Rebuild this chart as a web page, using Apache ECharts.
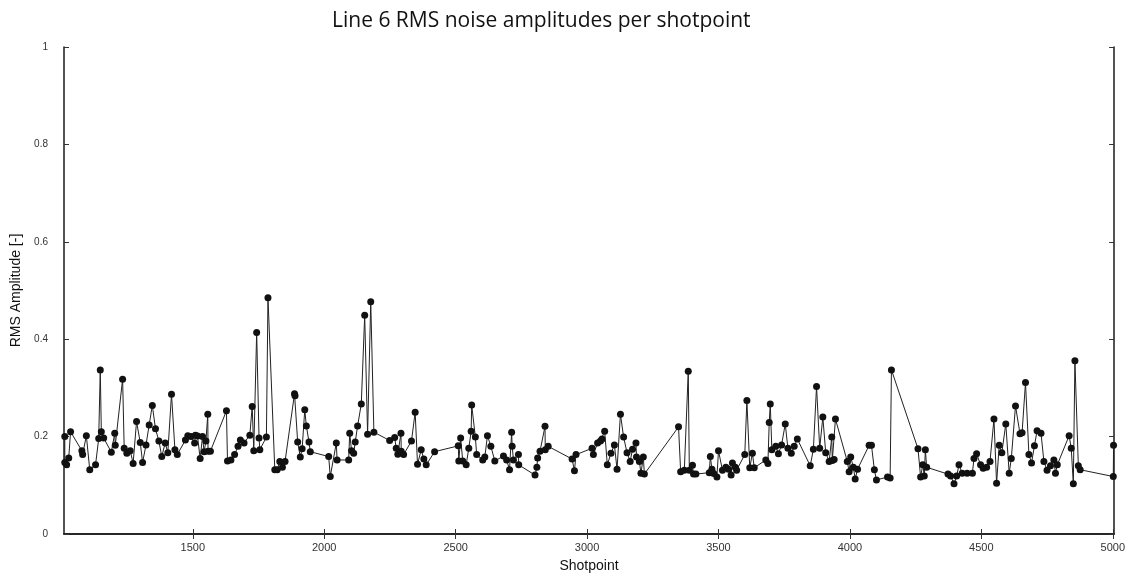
<!DOCTYPE html>
<html>
<head>
<meta charset="utf-8">
<script src="https://cdn.jsdelivr.net/npm/echarts@6/dist/echarts.min.js"></script>
<style>html,body{margin:0;padding:0;background:#fff;}#c{width:1128px;height:578px;}</style>
</head>
<body>
<div id="c"></div>
<script>
const titleText = 'Line 6 RMS noise amplitudes per shotpoint';
const xName = 'Shotpoint';
const yName = 'RMS Amplitude [-]';
const xTicks = [1500, 2000, 2500, 3000, 3500, 4000, 4500, 5000];
const shotpoints = [
1013,1013,1020,1028,1035,1078,1081,1095,1108,1130,1142,1148,1152,1161,1190,1203,1205,1233,1239,1249,
1262,1273,1286,1300,1309,1322,1334,1346,1358,1371,1382,1395,1405,1419,1432,1441,1472,1481,1493,1507,
1510,1518,1528,1537,1543,1550,1557,1558,1567,1628,1632,1645,1659,1672,1681,1695,1717,1726,1732,1743,
1752,1755,1780,1786,1812,1821,1831,1841,1851,1887,1889,1899,1909,1916,1926,1932,1942,1947,2017,2023,
2046,2049,2093,2097,2104,2112,2118,2127,2141,2154,2165,2177,2189,2249,2268,2274,2280,2292,2293,2302,
2332,2346,2355,2369,2379,2388,2420,2510,2512,2519,2527,2540,2550,2559,2561,2575,2580,2603,2611,2621,
2634,2649,2682,2694,2705,2713,2715,2720,2739,2740,2802,2809,2812,2821,2840,2841,2852,2943,2952,2958,
3019,3024,3040,3051,3057,3067,3077,3091,3104,3114,3127,3139,3152,3164,3173,3186,3188,3199,3205,3214,
3218,3348,3356,3370,3385,3389,3401,3405,3414,3465,3469,3475,3482,3494,3500,3515,3528,3538,3548,3553,
3564,3569,3600,3608,3619,3629,3636,3680,3688,3693,3697,3703,3718,3728,3740,3754,3764,3777,3788,3800,
3849,3861,3873,3885,3897,3908,3921,3931,3933,3940,3945,3990,3997,4003,4013,4020,4029,4073,4082,4093,
4101,4143,4153,4158,4259,4269,4277,4283,4287,4292,4373,4383,4396,4406,4415,4427,4446,4466,4472,4482,
4497,4507,4520,4533,4548,4558,4568,4578,4593,4606,4614,4630,4647,4655,4668,4681,4691,4702,4712,4727,
4738,4750,4763,4776,4782,4789,4834,4842,4850,4856,4869,4876,5002,5003
];
const amplitudes = [
0.200,0.147,0.142,0.156,0.210,0.171,0.163,0.202,0.132,0.142,0.196,0.337,0.210,0.197,0.168,0.207,0.182,0.318,0.176,0.166,
0.171,0.145,0.231,0.188,0.147,0.183,0.224,0.264,0.216,0.191,0.159,0.187,0.167,0.287,0.173,0.163,0.193,0.202,0.200,0.187,
0.203,0.201,0.155,0.200,0.169,0.191,0.246,0.170,0.170,0.253,0.150,0.152,0.163,0.180,0.193,0.187,0.203,0.262,0.171,0.414,
0.197,0.173,0.199,0.485,0.132,0.132,0.149,0.137,0.149,0.288,0.284,0.189,0.158,0.175,0.255,0.222,0.189,0.169,0.159,0.118,
0.187,0.152,0.152,0.207,0.171,0.166,0.189,0.222,0.267,0.449,0.205,0.477,0.209,0.192,0.198,0.176,0.164,0.207,0.170,0.163,
0.191,0.250,0.143,0.173,0.154,0.142,0.169,0.181,0.150,0.197,0.150,0.142,0.176,0.211,0.265,0.199,0.163,0.152,0.158,0.202,
0.180,0.150,0.160,0.152,0.132,0.209,0.180,0.152,0.163,0.142,0.121,0.137,0.156,0.170,0.221,0.173,0.180,0.154,0.130,0.163,
0.176,0.163,0.187,0.191,0.195,0.211,0.142,0.166,0.183,0.133,0.246,0.199,0.167,0.149,0.174,0.187,0.158,0.149,0.125,0.158,
0.123,0.220,0.128,0.131,0.334,0.131,0.141,0.123,0.123,0.126,0.159,0.133,0.124,0.117,0.171,0.131,0.137,0.133,0.121,0.146,
0.137,0.131,0.163,0.274,0.136,0.166,0.136,0.152,0.145,0.229,0.267,0.173,0.180,0.165,0.183,0.226,0.176,0.166,0.180,0.195,
0.140,0.174,0.303,0.176,0.240,0.167,0.149,0.199,0.151,0.153,0.236,0.149,0.128,0.158,0.137,0.113,0.133,0.182,0.182,0.132,
0.111,0.117,0.115,0.337,0.175,0.117,0.142,0.119,0.173,0.137,0.123,0.119,0.103,0.119,0.142,0.125,0.125,0.125,0.155,0.165,
0.142,0.135,0.137,0.149,0.236,0.104,0.182,0.167,0.226,0.125,0.155,0.263,0.206,0.208,0.311,0.163,0.146,0.181,0.212,0.207,
0.149,0.131,0.140,0.152,0.125,0.142,0.202,0.176,0.103,0.356,0.140,0.132,0.118,0.182
];

const seriesData = shotpoints.map((x, i) => [x, amplitudes[i]]);
const chart = echarts.init(document.getElementById('c'), null, {renderer: 'canvas'});
const axisLineStyle = {color: '#1a1a1a', width: 1.5};
chart.setOption({
  animation: false,
  backgroundColor: '#ffffff',
  title: {
    text: titleText,
    left: 327, top: 6,
    textStyle: {fontFamily: 'Open Sans', fontSize: 21, fontWeight: 'normal', color: '#111'}
  },
  grid: {left: 64, right: 12, top: 47, bottom: 44, containLabel: false},
  xAxis: [{
    type: 'value', min: 1010, max: 5005, position: 'bottom',
    name: xName, nameLocation: 'middle', nameGap: 25,
    nameTextStyle: {fontFamily: 'Liberation Sans', fontSize: 14, color: '#111'},
    axisLine: {show: true, lineStyle: axisLineStyle},
    axisTick: {show: true, inside: true, length: 5, customValues: xTicks, lineStyle: {color: '#333'}},
    axisLabel: {show: true, customValues: xTicks, formatter: v => String(v), fontFamily: 'Liberation Sans', fontSize: 11, color: '#333', margin: 8},
    splitLine: {show: false}
  }, {
    type: 'value', min: 1010, max: 5005, position: 'top',
    axisLine: {show: true, lineStyle: axisLineStyle},
    axisTick: {show: true, inside: true, length: 5, customValues: xTicks, lineStyle: {color: '#333'}},
    axisLabel: {show: false},
    splitLine: {show: false}
  }],
  yAxis: [{
    type: 'value', min: 0, max: 1, interval: 0.2, position: 'left',
    name: yName, nameLocation: 'middle', nameGap: 41, nameRotate: 90,
    nameTextStyle: {fontFamily: 'Liberation Sans', fontSize: 14, color: '#111'},
    axisLine: {show: true, lineStyle: axisLineStyle},
    axisTick: {show: true, inside: true, length: 5, lineStyle: {color: '#333'}},
    axisLabel: {fontFamily: 'Liberation Sans', fontSize: 10, color: '#333', margin: 16},
    splitLine: {show: false}
  }, {
    type: 'value', min: 0, max: 1, interval: 0.2, position: 'right',
    axisLine: {show: true, lineStyle: axisLineStyle},
    axisTick: {show: true, inside: true, length: 5, lineStyle: {color: '#333'}},
    axisLabel: {show: false},
    splitLine: {show: false}
  }],
  series: [{
    type: 'line',
    data: seriesData,
    xAxisIndex: 0, yAxisIndex: 0,
    symbol: 'circle', symbolSize: 7,
    showAllSymbol: true,
    itemStyle: {color: '#111'},
    lineStyle: {color: '#222', width: 1},
    emphasis: {disabled: true}
  }]
});
</script>
</body>
</html>
